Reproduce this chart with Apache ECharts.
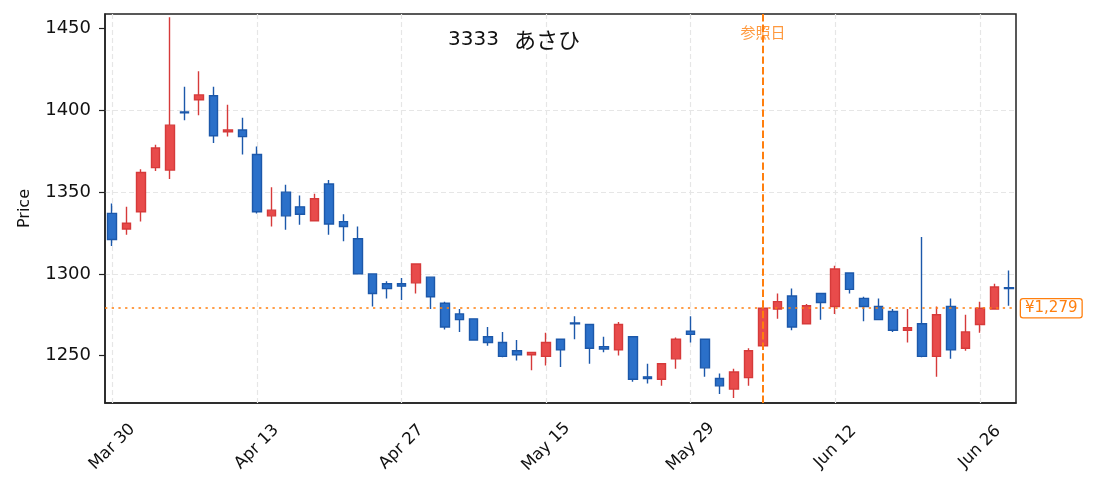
<!DOCTYPE html>
<html>
<head>
<meta charset="utf-8">
<script src="https://cdn.jsdelivr.net/npm/echarts@6/dist/echarts.min.js"></script>
<style>
    html, body { margin: 0; padding: 0; background: #fff; }
    #chart { width: 1095px; height: 492px; }
</style>
</head>
<body>
<div id="chart"></div>
<script>
// trading days, Mar 30 - Jun 30
const dates = [
    'Mar 30', 'Mar 31', 'Apr 1', 'Apr 2', 'Apr 3', 'Apr 6', 'Apr 7', 'Apr 8', 'Apr 9', 'Apr 10',
    'Apr 13', 'Apr 14', 'Apr 15', 'Apr 16', 'Apr 17', 'Apr 20', 'Apr 21', 'Apr 22', 'Apr 23', 'Apr 24',
    'Apr 27', 'Apr 28', 'Apr 30', 'May 1', 'May 7', 'May 8', 'May 11', 'May 12', 'May 13', 'May 14',
    'May 15', 'May 18', 'May 19', 'May 20', 'May 21', 'May 22', 'May 25', 'May 26', 'May 27', 'May 28',
    'May 29', 'Jun 1', 'Jun 2', 'Jun 3', 'Jun 4', 'Jun 5', 'Jun 8', 'Jun 9', 'Jun 10', 'Jun 11',
    'Jun 12', 'Jun 15', 'Jun 16', 'Jun 17', 'Jun 18', 'Jun 19', 'Jun 22', 'Jun 23', 'Jun 24', 'Jun 25',
    'Jun 26', 'Jun 29', 'Jun 30'
];
const opens = [
    1337, 1327.5, 1338, 1365, 1363.5, 1399, 1406.5, 1409, 1387, 1388,
    1373, 1335.5, 1350, 1341, 1332.5, 1355, 1332, 1321.5, 1300, 1294,
    1294, 1294.5, 1298, 1282, 1275.5, 1272.5, 1261.5, 1258, 1253, 1250.5,
    1249.5, 1260, 1270, 1269, 1255.5, 1253.5, 1261.5, 1237, 1235.5, 1248,
    1265, 1260, 1236, 1229.5, 1236.5, 1256, 1278.5, 1286.5, 1269.5, 1288,
    1280, 1300.5, 1285, 1280, 1277, 1265.5, 1269.5, 1249.5, 1280, 1254.5,
    1269, 1278.5, 1291.5
];
const closes = [
    1321, 1331, 1362, 1377, 1391, 1398.5, 1409.5, 1384.5, 1388, 1384,
    1338, 1339, 1335.5, 1336.5, 1346, 1330.5, 1329, 1300, 1288, 1291,
    1292.5, 1306, 1286, 1267.5, 1272, 1259.5, 1258, 1249.5, 1250.5, 1252,
    1258, 1253.5, 1269.5, 1254.5, 1254, 1269, 1235.5, 1236, 1245, 1260,
    1263, 1242.5, 1231.5, 1240, 1253, 1279, 1283, 1267.5, 1280.5, 1282.5,
    1303, 1290.5, 1280, 1272, 1265.5, 1267, 1249.5, 1275, 1253.5, 1264.5,
    1279, 1292, 1291
];
const lows = [
    1317, 1324, 1332, 1363, 1358, 1394, 1397, 1380, 1384, 1373,
    1337, 1329, 1327, 1330, 1332.5, 1324, 1320, 1300, 1280, 1285,
    1284, 1288, 1278.5, 1266, 1264.5, 1259.5, 1256, 1249, 1247, 1241,
    1244, 1243, 1260, 1245, 1252, 1250, 1234, 1233, 1231.5, 1242,
    1258, 1237, 1226.5, 1224, 1231.5, 1256, 1272.5, 1265.5, 1269.5, 1272,
    1275.5, 1288, 1271, 1272, 1264.5, 1258, 1249, 1237, 1248, 1253,
    1264, 1278.5, 1280.5
];
const highs = [
    1343, 1341, 1364, 1379, 1457, 1414.5, 1424, 1414.5, 1403.5, 1395.5,
    1378, 1353, 1354.5, 1348, 1349, 1357.5, 1336.5, 1329, 1300, 1295.5,
    1297.5, 1306, 1298, 1283, 1278.5, 1272.5, 1267.5, 1264.5, 1259.5, 1252,
    1264, 1260, 1274, 1269, 1261.5, 1270.5, 1261.5, 1245, 1245, 1261,
    1274, 1260, 1239, 1242, 1254.5, 1279, 1288, 1291, 1281.5, 1288,
    1305, 1300.5, 1286, 1285, 1278.5, 1278.5, 1322.5, 1280, 1285, 1275,
    1283, 1294, 1302
];
const tickDates = ['Mar 30', 'Apr 13', 'Apr 27', 'May 15', 'May 29', 'Jun 12', 'Jun 26'];
const yTicks = [1250, 1300, 1350, 1400, 1450];
const refDate = 'Jun 5';
const refPrice = 1279;

const FONT = '"DejaVu Sans", "Noto Sans CJK JP", sans-serif';
const CJK = '"Noto Sans CJK JP", sans-serif';
const ORANGE = '#ff7f0e';

const candles = dates.map((d, i) => [opens[i], closes[i], lows[i], highs[i]]);

const chart = echarts.init(document.getElementById('chart'));

chart.setOption({
    animation: false,
    textStyle: { fontFamily: FONT },
    title: {
        text: '{n|3333}{j|あさひ}',
        left: 448,
        top: 29,
        padding: 0,
        textStyle: {
            fontWeight: 'normal', color: '#111',
            rich: {
                n: { fontFamily: FONT, fontSize: 20, color: '#111' },
                j: { fontFamily: CJK, fontSize: 22, color: '#111', padding: [0, 0, 0, 15] }
            }
        }
    },
    grid: {
        left: 105, right: 79, top: 14, bottom: 89,
        show: true, borderColor: '#222', borderWidth: 1.5, backgroundColor: 'transparent'
    },
    xAxis: {
        type: 'category',
        data: dates,
        boundaryGap: true,
        axisLine: { lineStyle: { color: '#222', width: 1.5 } },
        axisTick: { interval: 9, alignWithLabel: true, length: 6, lineStyle: { color: '#222', width: 1.2 } },
        axisLabel: {
            interval: 9, rotate: 45, margin: 44,
            align: 'center', verticalAlign: 'middle',
            fontSize: 16.5, color: '#111', fontFamily: FONT
        },
        splitLine: { show: false }
    },
    yAxis: {
        type: 'value',
        min: 1221,
        max: 1459,
        name: 'Price',
        nameLocation: 'middle',
        nameGap: 72,
        nameTextStyle: { fontSize: 16, color: '#111', fontFamily: FONT },
        axisLine: { show: true, lineStyle: { color: '#222', width: 1.5 } },
        axisTick: { show: true, length: 6, customValues: yTicks, lineStyle: { color: '#222', width: 1.2 } },
        axisLabel: {
            customValues: yTicks, margin: 14,
            fontSize: 18, color: '#111', fontFamily: FONT,
            formatter: v => String(v)
        },
        splitLine: {
            show: true, showMinLine: false, showMaxLine: false,
            lineStyle: { color: '#e6e6e6', type: [5, 3], width: 1.2 }
        }
    },
    series: [
        {
            // vertical grid lines under the candles
            type: 'line',
            data: [],
            z: 1,
            silent: true,
            markLine: {
                z: 1,
                silent: true,
                symbol: 'none',
                label: { show: false },
                lineStyle: { color: '#e6e6e6', type: [5, 3], width: 1.2 },
                data: tickDates.map(d => ({ xAxis: d }))
            }
        },
        {
            type: 'candlestick',
            data: candles,
            barWidth: 9,
            z: 2,
            itemStyle: {
                color: '#e84b4b',
                borderColor: '#d63a3a',
                color0: '#2b70c9',
                borderColor0: '#1c58aa',
                borderWidth: 1.4
            },
            markLine: {
                silent: true,
                symbol: 'none',
                data: [
                    {
                        xAxis: refDate,
                        label: { show: false },
                        lineStyle: { color: ORANGE, type: [7.4, 3.2], width: 2 }
                    },
                    {
                        yAxis: refPrice,
                        lineStyle: { color: ORANGE, type: [2.3, 4.4], width: 1.6 },
                        label: {
                            show: true,
                            position: 'end',
                            distance: 5,
                            formatter: '¥1,279',
                            color: ORANGE,
                            fontSize: 15,
                            fontFamily: FONT,
                            backgroundColor: '#fff',
                            borderColor: ORANGE,
                            borderWidth: 1.3,
                            borderRadius: 2,
                            padding: [2, 4, 1, 4]
                        }
                    }
                ]
            },
            markPoint: {
                silent: true,
                symbol: 'rect',
                symbolSize: 0,
                data: [{ coord: [refDate, 1448], value: 0 }],
                label: {
                    show: true,
                    position: 'inside',
                    formatter: '参照日',
                    color: ORANGE,
                    opacity: 0.8,
                    fontSize: 15,
                    fontFamily: CJK
                }
            }
        }
    ]
});
</script>
</body>
</html>
